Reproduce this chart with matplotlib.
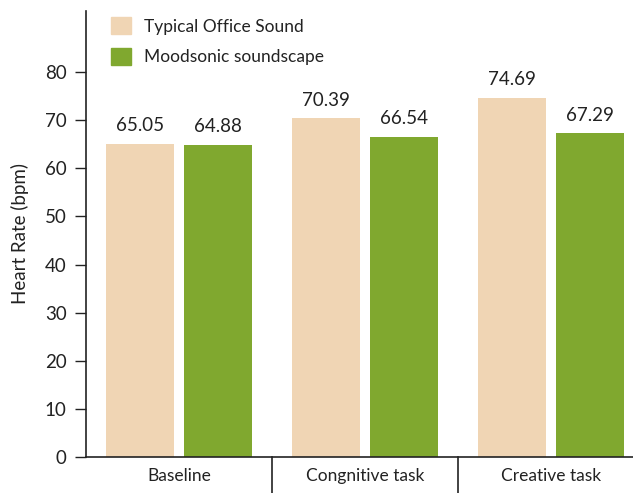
import matplotlib.pyplot as plt
import numpy as np
from matplotlib.patches import Patch

plt.rcParams["font.family"] = ["Lato", "DejaVu Sans"]

categories = ["Baseline", "Congnitive task", "Creative task"]
office = [65.05, 70.39, 74.69]
moodsonic = [64.88, 66.54, 67.29]
series_names = ["Typical Office Sound", "Moodsonic soundscape"]
yticks = [0, 10, 20, 30, 40, 50, 60, 70, 80]

beige = "#F0D5B4"
green = "#80A82F"
dark = "#222222"

fig = plt.figure(figsize=(6.33, 4.93), dpi=100)
ax = fig.add_axes([86 / 633, 36 / 493, 558 / 633, 446 / 493])

x = np.arange(len(categories))
w = 0.365
b1 = ax.bar(x - 0.21, office, w, color=beige)
b2 = ax.bar(x + 0.21, moodsonic, w, color=green)

for bars, vals in [(b1, office), (b2, moodsonic)]:
    for rect, v in zip(bars, vals):
        ax.annotate(f"{v:.2f}", (rect.get_x() + rect.get_width() / 2, v),
                    xytext=(0, 7), textcoords="offset points",
                    ha="center", va="bottom", fontsize=13.5, color=dark)

ax.set_xlim(-0.5, 2.5)
ax.set_ylim(0, 92.7)
ax.set_yticks(yticks)
ax.tick_params(axis="y", length=8, width=1, labelsize=13.5, colors=dark, pad=6)
ax.set_xticks(x)
ax.set_xticklabels(categories)
ax.tick_params(axis="x", length=0, labelsize=12.5, colors=dark, pad=8)
ax.set_ylabel("Heart Rate (bpm)", fontsize=13.5, color=dark, labelpad=11)

for s in ["top", "right"]:
    ax.spines[s].set_visible(False)
for s in ["left", "bottom"]:
    ax.spines[s].set_color(dark)
    ax.spines[s].set_linewidth(1.2)

# separators between categories below the axis
for xs in [0.5, 1.5]:
    ax.plot([xs, xs], [0, -8], color=dark, lw=1.2, clip_on=False)

handles = [Patch(color=beige), Patch(color=green)]
ax.legend(handles, series_names, loc="upper left",
          bbox_to_anchor=(99 / 633, 488 / 493, 0.5, 0), bbox_transform=fig.transFigure,
          frameon=False, fontsize=12.5, handlelength=1.15, handleheight=1.15,
          handletextpad=0.75, labelspacing=0.75, borderaxespad=0.3, labelcolor=dark)

fig.savefig("out.png", dpi=100)
